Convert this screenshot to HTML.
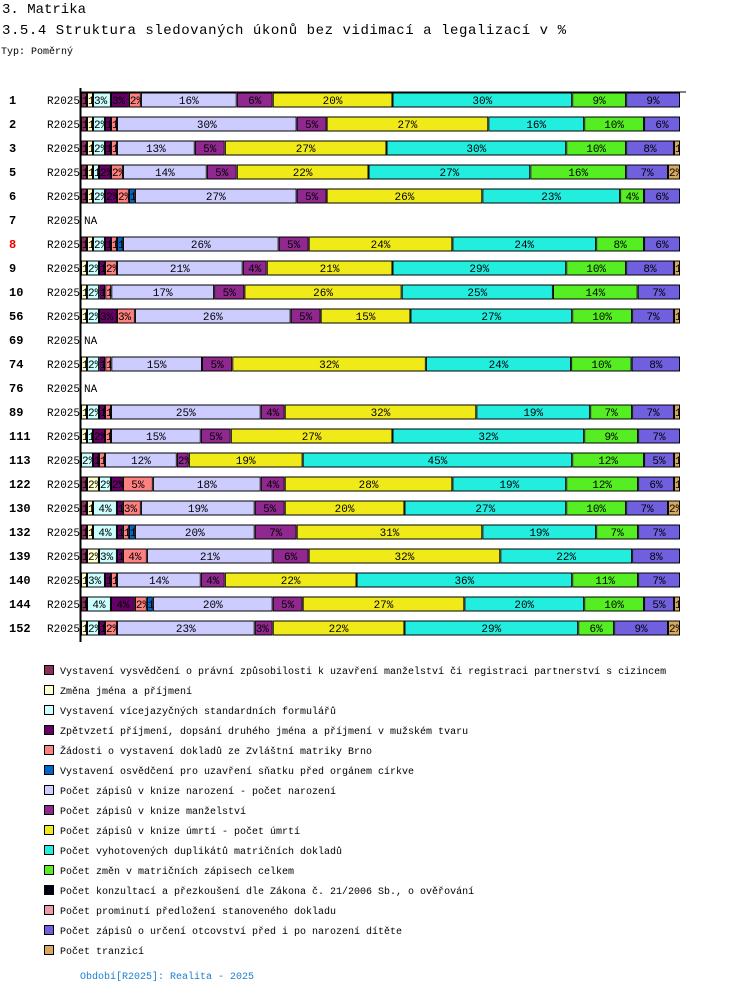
<!DOCTYPE html>
<html><head><meta charset="utf-8"><style>
body{margin:0;background:#fff;width:750px;height:994px;overflow:hidden;font-family:"Liberation Mono",monospace;}
</style></head><body>
<svg id="chart" width="750" height="994" xmlns="http://www.w3.org/2000/svg" font-family="Liberation Mono, monospace">
<text x="2" y="13" font-size="14">3. Matrika</text>
<text x="2" y="34" font-size="14" textLength="564">3.5.4 Struktura sledovaných úkonů bez vidimací a legalizací v %</text>
<text x="1" y="54" font-size="10">Typ: Poměrný</text>
<line x1="80.5" y1="88" x2="80.5" y2="642" stroke="#000" stroke-width="2"/>
<line x1="80" y1="92" x2="686" y2="92" stroke="#000" stroke-width="1"/>
<g id="bars"></g>
<g id="legend"></g>
<text x="80" y="979" font-size="10" fill="#1a7fd0">Období[R2025]: Realita - 2025</text>
</svg>
<script>
const categories=["1","2","3","5","6","7","8","9","10","56","69","74","76","89","111","113","122","130","132","139","140","144","152"];
const seriesNames=["Vystavení vysvědčení o právní způsobilosti k uzavření manželství či registraci partnerství s cizincem","Změna jména a příjmení","Vystavení vícejazyčných standardních formulářů","Zpětvzetí příjmení, dopsání druhého jména a příjmení v mužském tvaru","Žádosti o vystavení dokladů ze Zvláštní matriky Brno","Vystavení osvědčení pro uzavření sňatku před orgánem církve","Počet zápisů v knize narození - počet narození","Počet zápisů v knize manželství","Počet zápisů v knize úmrtí - počet úmrtí","Počet vyhotovených duplikátů matričních dokladů","Počet změn v matričních zápisech celkem","Počet  konzultací a přezkoušení dle Zákona č. 21/2006 Sb., o ověřování","Počet prominutí předložení stanoveného dokladu","Počet zápisů o určení otcovství před i po narození dítěte","Počet tranzicí"];
const colors=["#8b2f5a","#ffffcc","#ccffff","#660066","#ff8080","#0066cc","#ccccff","#902890","#f0ea18","#22eee0","#55ee22","#000010","#ee99aa","#7060e0","#d8a860"];
const s1=[1,1,1,1,1,null,1,0,0,0,null,0,null,0,0,0,1,1,1,1,0,1,0];
const s2=[1,1,1,1,1,null,1,1,1,1,null,1,null,1,1,0,2,1,1,2,1,0,1];
const s3=[3,2,2,1,2,null,2,2,2,2,null,2,null,2,1,2,2,4,4,3,3,4,2];
const s4=[3,1,1,2,2,null,1,1,1,3,null,1,null,1,2,1,2,1,1,1,1,4,1];
const s5=[2,1,1,2,2,null,1,2,1,3,null,1,null,1,1,1,5,3,1,4,1,2,2];
const s6=[0,0,0,0,1,null,1,0,0,0,null,0,null,0,0,0,0,0,1,0,0,1,0];
const s7=[16,30,13,14,27,null,26,21,17,26,null,15,null,25,15,12,18,19,20,21,14,20,23];
const s8=[6,5,5,5,5,null,5,4,5,5,null,5,null,4,5,2,4,5,7,6,4,5,3];
const s9=[20,27,27,22,26,null,24,21,26,15,null,32,null,32,27,19,28,20,31,32,22,27,22];
const s10=[30,16,30,27,23,null,24,29,25,27,null,24,null,19,32,45,19,27,19,22,36,20,29];
const s11=[9,10,10,16,4,null,8,10,14,10,null,10,null,7,9,12,12,10,7,0,11,10,6];
const s12=[0,0,0,0,0,null,0,0,0,0,null,0,null,0,0,0,0,0,0,0,0,0,0];
const s13=[0,0,0,0,0,null,0,0,0,0,null,0,null,0,0,0,0,0,0,0,0,0,0];
const s14=[9,6,8,7,6,null,6,8,7,7,null,8,null,7,7,5,6,7,7,8,7,5,9];
const s15=[0,0,1,2,0,null,0,1,0,1,null,0,null,1,0,1,1,2,0,0,0,1,2];
const series=[s1,s2,s3,s4,s5,s6,s7,s8,s9,s10,s11,s12,s13,s14,s15];

const NS="http://www.w3.org/2000/svg";
const X0=81,W=599,Y0=100,STEP=24,BH=15;
function xScale(frac){return X0+frac*W;}
function yScale(i){return Y0+i*STEP;}
const gb=document.getElementById('bars');
function mk(tag,attrs){const e=document.createElementNS(NS,tag);for(const k in attrs)e.setAttribute(k,attrs[k]);return e;}
categories.forEach((c,i)=>{
  const y=yScale(i);
  const lab=mk('text',{x:9,y:y+4,'font-size':'12','font-weight':'bold',fill:c==="8"?"#e00":"#000"});
  
  
  lab.textContent=c;gb.appendChild(lab);
  const per=mk('text',{x:47,y:y+4,'font-size':'11'});
  
  
  per.textContent="R2025";gb.appendChild(per);
  if(series[0][i]===null){
    const na=mk('text',{x:84,y:y+4,'font-size':'11'});
    
    
    na.textContent="NA";gb.appendChild(na);return;
  }
  let total=0;series.forEach(s=>total+=s[i]);
  let acc=0;
  series.forEach((s,k)=>{
    const v=s[i];if(!v)return;
    const x1=xScale(acc/total),x2=xScale((acc+v)/total);acc+=v;
    const sv=mk('svg',{x:x1,y:y-BH/2,width:x2-x1,height:BH,overflow:'hidden'});
    
    
    const r=mk('rect',{x:0.5,y:0.5,width:Math.max(0,x2-x1-1),height:BH-1,fill:colors[k],stroke:'#000','stroke-width':1});
    sv.appendChild(r);
    const t=mk('text',{x:(x2-x1)/2,y:BH/2+4,'font-size':'11','text-anchor':(x2-x1)>20?'middle':'start'});
    if((x2-x1)<=20)t.setAttribute('x',1);
    t.textContent=v+"%";sv.appendChild(t);
    gb.appendChild(sv);
  });
});
const gl=document.getElementById('legend');
seriesNames.forEach((n,k)=>{
  const y=671+k*20;
  const r=mk('rect',{x:44.5,y:y-5.5,width:9,height:9,fill:colors[k],stroke:'#000'});
  
  
  gl.appendChild(r);
  const t=mk('text',{x:60,y:y+3,'font-size':'10'});
  
  
  t.textContent=n;gl.appendChild(t);
});
</script>
</body></html>
